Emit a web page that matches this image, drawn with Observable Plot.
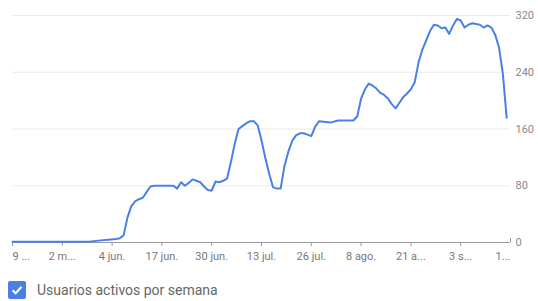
<!DOCTYPE html>
<html>
<head>
<meta charset="utf-8">
<script src="https://cdn.jsdelivr.net/npm/d3@7"></script>
<script src="https://cdn.jsdelivr.net/npm/@observablehq/plot@0.6"></script>
<style>
  body { margin: 0; background: #fff; font-family: Roboto, "Noto Sans", sans-serif; }
  #legend { display: flex; align-items: center; margin: 15px 0 0 8px; height: 20px; }
  #legend .box { width: 18px; height: 18px; border-radius: 2px; background: #4a80e6; display: flex; align-items: center; justify-content: center; }
  #legend .label { margin-left: 11px; font-size: 14px; color: #666; }
</style>
</head>
<body>
<div id="chart"></div>
<div id="legend">
  <div class="box"><svg width="14" height="14" viewBox="0 0 14 14"><path d="M2.5 7.2 L5.6 10.2 L11.6 3.8" fill="none" stroke="#fff" stroke-width="2"/></svg></div>
  <div class="label" id="legendLabel"></div>
</div>
<script>
const seriesName = "Usuarios activos por semana";
const dates = [
  "2017-05-09","2017-05-16","2017-05-24","2017-05-29","2017-06-01","2017-06-03","2017-06-05","2017-06-06",
  "2017-06-07","2017-06-08","2017-06-09","2017-06-10","2017-06-11","2017-06-12","2017-06-13","2017-06-14",
  "2017-06-15","2017-06-19","2017-06-20","2017-06-21","2017-06-22","2017-06-23","2017-06-24","2017-06-25",
  "2017-06-26","2017-06-27","2017-06-28","2017-06-29","2017-06-30","2017-07-01","2017-07-02","2017-07-03",
  "2017-07-04","2017-07-05","2017-07-06","2017-07-07","2017-07-08","2017-07-09","2017-07-10","2017-07-11",
  "2017-07-12","2017-07-13","2017-07-14","2017-07-15","2017-07-16","2017-07-17","2017-07-18","2017-07-19",
  "2017-07-20","2017-07-21","2017-07-22","2017-07-23","2017-07-24","2017-07-25","2017-07-26","2017-07-27",
  "2017-07-28","2017-07-31","2017-08-02","2017-08-06","2017-08-07","2017-08-08","2017-08-09","2017-08-10",
  "2017-08-11","2017-08-12","2017-08-13","2017-08-14","2017-08-15","2017-08-16","2017-08-17","2017-08-18",
  "2017-08-19","2017-08-20","2017-08-21","2017-08-22","2017-08-23","2017-08-24","2017-08-25","2017-08-26",
  "2017-08-27","2017-08-28","2017-08-29","2017-08-30","2017-08-31","2017-09-01","2017-09-02","2017-09-03",
  "2017-09-04","2017-09-05","2017-09-06","2017-09-07","2017-09-08","2017-09-09","2017-09-10","2017-09-11",
  "2017-09-12","2017-09-13","2017-09-14","2017-09-15"
];
const values = [
  1,1,1,1,3,4,5,6,
  10,35,51,58,61,63,71,79,
  80,80,80,76,85,80,84,89,
  87,85,79,74,73,86,85,87,
  90,113,139,160,164,168,171,171,
  165,144,119,97,78,76,76,108,
  128,143,151,154,154,152,150,163,
  171,169,172,172,178,203,216,224,
  221,217,211,208,203,195,189,197,
  205,210,216,226,254,272,285,298,
  307,306,302,303,294,306,315,313,
  303,307,309,308,307,303,306,303,
  293,275,238,176
];
const tickDates = ["2017-05-09","2017-05-22","2017-06-04","2017-06-17","2017-06-30","2017-07-13","2017-07-26","2017-08-08","2017-08-21","2017-09-03","2017-09-16"];
const tickLabels = ["9 ...","2 m...","4 jun.","17 jun.","30 jun.","13 jul.","26 jul.","8 ago.","21 a...","3 s...","1..."];
const yTicks = [0, 80, 160, 240, 320];

const data = dates.map((d, i) => ({date: new Date(d), value: values[i]}));
const ticks = tickDates.map((d, i) => ({date: new Date(d), label: tickLabels[i], i}));
const n = ticks.length;

const gray = "#777";
const plot = Plot.plot({
  width: 538,
  height: 265,
  marginLeft: 12,
  marginRight: 28,
  marginTop: 15,
  marginBottom: 23,
  style: {fontFamily: "Roboto, 'Noto Sans', sans-serif", fontSize: "11px", color: gray, background: "#fff"},
  x: {type: "utc", domain: [new Date(tickDates[0]), new Date(tickDates[n - 1])], axis: null},
  y: {domain: [0, 320], axis: null},
  marks: [
    Plot.ruleY(yTicks.filter(v => v > 0), {stroke: "#ebebeb", strokeWidth: 1}),
    Plot.axisY(yTicks, {anchor: "right", tickSize: 0, tickPadding: 5, fill: "#888", fontSize: 11, label: null}),
    Plot.ruleY([0], {stroke: "#999", strokeWidth: 1}),
    Plot.ruleX(ticks.filter(t => t.i < n - 1), {x: "date", y1: 0, y2: 0, stroke: "#999", insetBottom: -4}),
    Plot.ruleX(ticks.filter(t => t.i === n - 1), {x: "date", y1: 0, y2: 0, stroke: "#999", insetTop: -4}),
    Plot.text(ticks.filter(t => t.i === 0), {x: "date", y: 0, text: "label", dy: 14, textAnchor: "start", fill: gray}),
    Plot.text(ticks.filter(t => t.i > 0 && t.i < n - 1), {x: "date", y: 0, text: "label", dy: 14, textAnchor: "middle", fill: gray}),
    Plot.text(ticks.filter(t => t.i === n - 1), {x: "date", y: 0, text: "label", dy: 14, textAnchor: "end", fill: gray}),
    Plot.line(data, {x: "date", y: "value", stroke: "#4a80e6", strokeWidth: 2, curve: "linear", strokeLinejoin: "round"})
  ]
});
document.getElementById("chart").appendChild(plot);
document.getElementById("legendLabel").textContent = seriesName;
</script>
</body>
</html>
